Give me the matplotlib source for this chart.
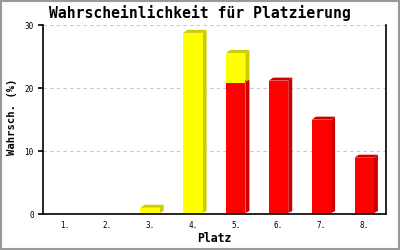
import matplotlib
matplotlib.use("Agg")
import matplotlib.pyplot as plt
from matplotlib.patches import Polygon, Rectangle

platz = ["1.", "2.", "3.", "4.", "5.", "6.", "7.", "8."]
gelb = [0, 0, 1.0, 28.8, 4.7, 0, 0, 0]
rot = [0, 0, 0, 0, 20.9, 21.2, 15.0, 8.95]
yticks = [0, 10, 20, 30]

title = "Wahrscheinlichkeit für Platzierung"
xlabel = "Platz"
ylabel = "Wahrsch. (%)"

font = "DejaVu Sans Mono"
fig = plt.figure(figsize=(4, 2.5), dpi=100)
ax = fig.add_axes([43 / 400, 1 - 214 / 250, (385.7 - 43) / 400, (214 - 25.3) / 250])
ax.set_xlim(0.5, len(platz) + 0.5)
ax.set_ylim(0, 30)

xs = list(range(1, len(platz) + 1))
w = 0.45
dx = 4 / 42.84
dy = 3 / 6.29

def bar3d(x, base, h, face, dark):
    if h <= 0:
        return
    l, r = x - w / 2, x + w / 2
    top = base + h
    ax.add_patch(Polygon([(r, base + dy * 0.3), (r + dx, base + dy), (r + dx, top + dy), (r, top)],
                         closed=True, facecolor=dark, edgecolor="none", zorder=2))
    ax.add_patch(Polygon([(l, top), (l + dx, top + dy), (r + dx, top + dy), (r, top)],
                         closed=True, facecolor=dark, edgecolor="none", zorder=2))
    ax.bar([x], [h], bottom=[base], width=w, color=face, edgecolor="none", zorder=3)

for x, rv, gv in zip(xs, rot, gelb):
    bar3d(x, 0, rv, "#ff0000", "#cc0000")
    bar3d(x, rv, gv, "#ffff00", "#cccc00")

ax.set_yticks(yticks)
ax.set_xticks(xs)
ax.set_xticklabels(platz)
ax.grid(axis="y", color="#c8c8c8", linestyle=(0, (3, 3)), linewidth=0.8, zorder=0)
ax.set_axisbelow(True)
ax.spines["top"].set_visible(False)
for s in ["left", "bottom", "right"]:
    ax.spines[s].set_linewidth(1.2)
    ax.spines[s].set_zorder(5)
ax.tick_params(axis="y", direction="out", length=3.6, width=1.2, pad=3,
               labelsize=5.5, labelfontfamily=font)
ax.tick_params(axis="x", length=0, pad=5, labelsize=5.5, labelfontfamily=font)

ax.set_xlabel(xlabel, fontfamily=font, fontweight="bold", fontsize=8.3, va="center")
ax.xaxis.set_label_coords(0.5, (214 - 239) / 188.7)
ax.set_ylabel(ylabel, fontfamily=font, fontweight="bold", fontsize=7.6, va="center")
ax.yaxis.set_label_coords((11.7 - 43) / 342.7, (214 - 116.5) / 188.7)
fig.text(0.5, 1 - 13 / 250, title, ha="center", va="center",
         fontfamily=font, fontweight="bold", fontsize=10.6)

fig.add_artist(Rectangle((0.0015, 0.0025), 0.997, 0.995, transform=fig.transFigure,
                         fill=False, edgecolor="#999999", linewidth=1.5))
fig.savefig("out.png", dpi=100)
